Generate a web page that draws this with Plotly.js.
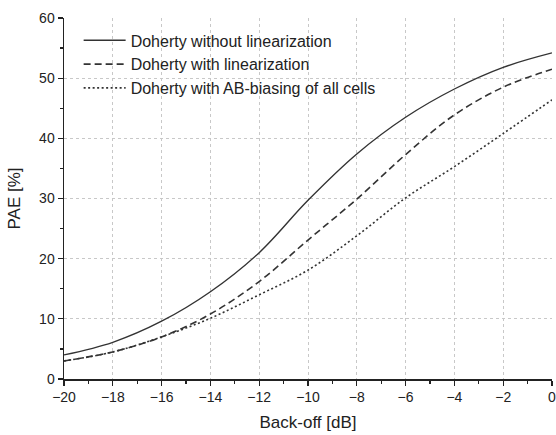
<!DOCTYPE html>
<html>
<head>
<meta charset="utf-8">
<script src="https://cdn.plot.ly/plotly-3.0.1.min.js"></script>
<style>html,body{margin:0;padding:0;background:#fff;}#chart{width:556px;height:435px;}</style>
</head>
<body>
<div id="chart"></div>
<script>
const backoff = [-20, -18, -16, -14, -12, -10, -8, -6, -4, -2, 0];
const paeNoLin = [4.0, 6.1, 9.6, 14.5, 21.0, 29.7, 37.4, 43.5, 48.2, 51.8, 54.2];
const paeLin = [3.0, 4.5, 7.0, 10.8, 16.2, 23.1, 29.9, 37.3, 43.9, 48.5, 51.5];
const paeAB = [3.0, 4.5, 7.0, 10.1, 14.0, 18.1, 23.8, 30.1, 35.3, 40.8, 46.4];
const seriesNames = ["Doherty without linearization", "Doherty with linearization", "Doherty with AB-biasing of all cells"];

const lineColor = '#333333';
const traces = [
  {x: backoff, y: paeNoLin, name: seriesNames[0], mode: 'lines', line: {color: lineColor, width: 1.4, shape: 'spline', dash: 'solid'}},
  {x: backoff, y: paeLin, name: seriesNames[1], mode: 'lines', line: {color: lineColor, width: 1.6, shape: 'spline', dash: '7px,4px'}},
  {x: backoff, y: paeAB, name: seriesNames[2], mode: 'lines', line: {color: lineColor, width: 1.6, shape: 'spline', dash: '2px,2.5px'}}
];

const ff = 'Liberation Sans, Arial, sans-serif';
const layout = {
  width: 556, height: 435,
  margin: {l: 64, r: 4, t: 18, b: 56},
  paper_bgcolor: '#fff', plot_bgcolor: '#fff',
  font: {family: ff, color: '#222'},
  showlegend: true,
  legend: {x: 0.03, y: 0.985, xanchor: 'left', yanchor: 'top', bgcolor: 'rgba(255,255,255,0)', font: {family: ff, size: 16, color: '#222'}, tracegroupgap: 0, itemwidth: 42},
  xaxis: {
    range: [-20, 0], tickvals: [-20, -18, -16, -14, -12, -10, -8, -6, -4, -2, 0],
    ticks: 'outside', ticklen: 5, tickwidth: 1.2, tickcolor: '#222',
    ticklabeloverflow: 'allow',
    showline: true, linecolor: '#222', linewidth: 1.5,
    showgrid: true, gridcolor: '#c8c8c8', griddash: 'dot', gridwidth: 1,
    zeroline: false,
    minor: {dtick: 1, ticks: 'outside', ticklen: 3, tickcolor: '#222', showgrid: false},
    tickfont: {family: ff, size: 14, color: '#222'},
    title: {text: 'Back-off [dB]', font: {family: ff, size: 17, color: '#222'}, standoff: 12}
  },
  yaxis: {
    range: [0, 60], tickvals: [0, 10, 20, 30, 40, 50, 60],
    ticks: 'outside', ticklen: 5, tickwidth: 1.2, tickcolor: '#222',
    ticklabeloverflow: 'allow',
    showline: true, linecolor: '#222', linewidth: 1.5,
    showgrid: true, gridcolor: '#c8c8c8', griddash: 'dot', gridwidth: 1,
    zeroline: false,
    minor: {dtick: 5, ticks: 'outside', ticklen: 3, tickcolor: '#222', showgrid: false},
    tickfont: {family: ff, size: 14, color: '#222'},
    title: {text: 'PAE [%]', font: {family: ff, size: 17, color: '#222'}, standoff: 14}
  }
};
Plotly.newPlot('chart', traces, layout, {displayModeBar: false, staticPlot: true});
</script>
</body>
</html>
